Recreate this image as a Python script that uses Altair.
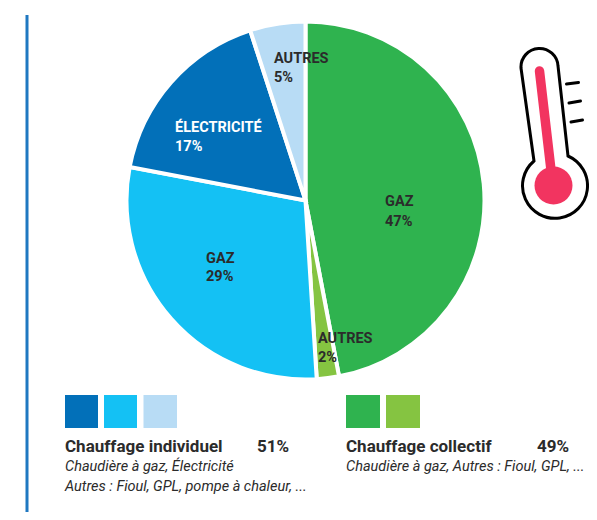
import altair as alt
import pandas as pd

# Pie data
slice_names = ["GAZ", "AUTRES", "GAZ", "ÉLECTRICITÉ", "AUTRES"]
slice_values = [47, 2, 29, 17, 5]
slice_colors = ["#2FB34F", "#85C441", "#14C1F4", "#0270B9", "#B8DCF5"]
slice_percent = ["47%", "2%", "29%", "17%", "5%"]
label_colors = ["#2b2b2b", "#2b2b2b", "#2b2b2b", "#ffffff", "#2b2b2b"]

# Legend text
group_names = ["Chauffage individuel", "Chauffage collectif"]
group_totals = ["51%", "49%"]
individual_notes = ["Chaudière à gaz, Électricité", "Autres : Fioul, GPL, pompe à chaleur, ..."]
collective_notes = ["Chaudière à gaz, Autres  : Fioul, GPL, ..."]

FONT = "Roboto"
OX, OY = 8, 8  # page margin
SHIFT = 9  # thermometer moved left so it stays inside the drawable area
one = alt.Data(values=[{"k": 0}])


def text(s, x, y, size=14.5, bold=True, italic=False, color="#2b2b2b"):
    return alt.Chart(one).mark_text(
        text=s, align="left", baseline="middle", font=FONT, fontSize=size,
        fontWeight="bold" if bold else "normal",
        fontStyle="italic" if italic else "normal", color=color,
    ).encode(x=alt.value(x - OX), y=alt.value(y - OY))


def rect(x1, x2, y1, y2, color):
    return alt.Chart(one).mark_rect(color=color).encode(
        x=alt.value(x1 - OX), x2=alt.value(x2 - OX),
        y=alt.value(y1 - OY), y2=alt.value(y2 - OY),
    )


def stroke_line(x1, y1, x2, y2, color, width):
    return alt.Chart(one).mark_rule(color=color, strokeWidth=width, strokeCap="round").encode(
        x=alt.value(x1 - OX - SHIFT), x2=alt.value(x2 - OX - SHIFT),
        y=alt.value(y1 - OY), y2=alt.value(y2 - OY),
    )


pie_df = pd.DataFrame({"i": range(5), "v": slice_values, "c": slice_colors})
pie = alt.Chart(pie_df).mark_arc(outerRadius=179, stroke="white", strokeWidth=4).encode(
    theta=alt.Theta("v:Q", stack=True),
    order=alt.Order("i:Q"),
    color=alt.Color("c:N", scale=None),
    x=alt.value(305.5 - OX),
    y=alt.value(200.5 - OY),
)

# Thermometer outline, in chart pixels relative to the mark position
outline = (
    "M 522 60 A 18.5 18.5 0 0 1 559 58 L 569 148 "
    "A 32.5 32.5 0 1 1 535 153 Z"
)
thermo = alt.Chart(one).mark_point(
    shape=outline, size=4, filled=False, stroke="#000000", strokeWidth=3, opacity=1
).encode(x=alt.value(-SHIFT), y=alt.value(0))
bulb = alt.Chart(one).mark_point(
    shape="circle", size=1444, filled=True, color="#F23460", opacity=1
).encode(x=alt.value(562.5 - OX - SHIFT), y=alt.value(185.5 - OY))

layers = [
    rect(25.5, 28.5, 15, 520, "#1F78C1"),
    pie,
    text(slice_names[0], 385, 202), text(slice_percent[0], 385, 222),
    text(slice_names[1], 318, 339), text(slice_percent[1], 318, 358),
    text(slice_names[2], 206, 259), text(slice_percent[2], 206, 277),
    text(slice_names[3], 175, 128, color=label_colors[3]),
    text(slice_percent[3], 175, 147, color=label_colors[3]),
    text(slice_names[4], 274, 59), text(slice_percent[4], 274, 78),
    thermo,
    stroke_line(548.5, 71, 560, 170, "#F23460", 9.5),
    bulb,
    stroke_line(575.5, 84, 587.5, 82.5, "#000000", 3),
    stroke_line(578, 103, 589.5, 101, "#000000", 3),
    stroke_line(580, 122, 591.5, 120, "#000000", 3),
    rect(65, 98, 395, 428, slice_colors[3]),
    rect(104, 137, 395, 428, slice_colors[2]),
    rect(143.5, 177, 395, 428, slice_colors[4]),
    rect(346, 380, 395, 428, slice_colors[0]),
    rect(386, 420, 395, 428, slice_colors[1]),
    text(group_names[0], 65, 447, size=17),
    text(group_totals[0], 257, 447, size=17),
    text(individual_notes[0], 65, 467, size=14.5, bold=False, italic=True),
    text(individual_notes[1], 65, 487, size=14.5, bold=False, italic=True),
    text(group_names[1], 346, 447, size=17),
    text(group_totals[1], 537, 447, size=17),
    text(collective_notes[0], 346, 467, size=14.5, bold=False, italic=True),
]

chart = alt.layer(*layers).properties(
    width=581, height=504, padding=0, background="#ffffff",
    autosize=alt.AutoSizeParams(type="fit", contains="padding"),
).configure_view(stroke=None)

chart.save("out.html", embed_options={"renderer": "svg", "actions": False})
